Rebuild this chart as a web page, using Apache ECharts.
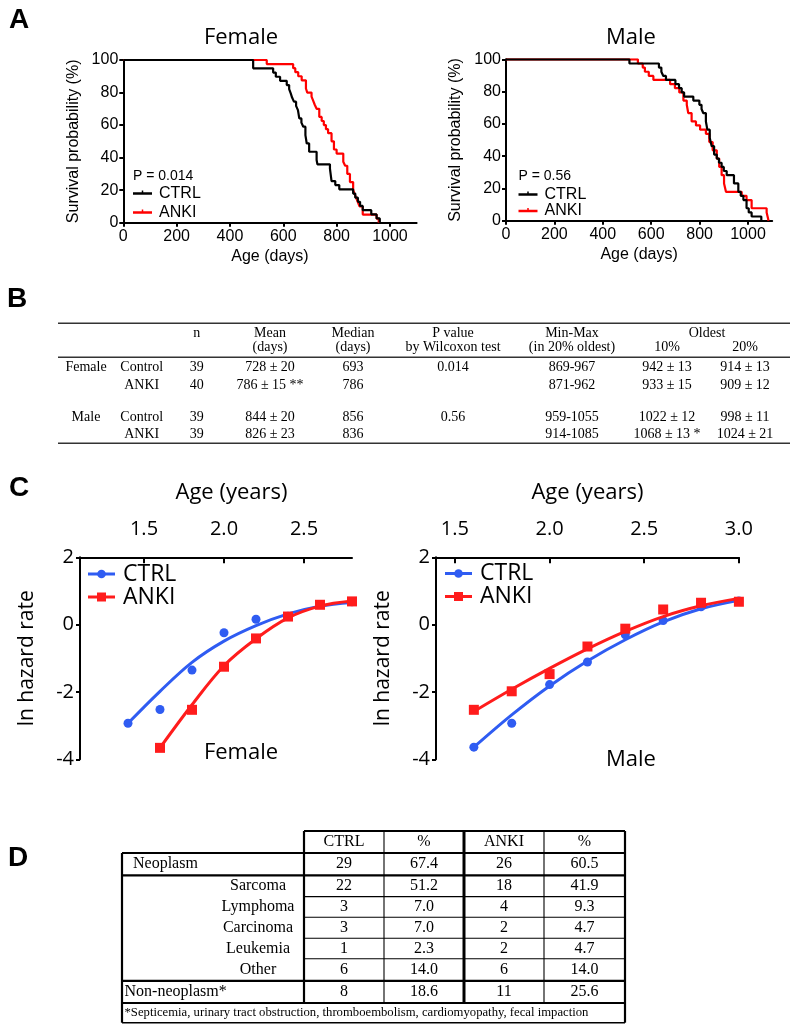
<!DOCTYPE html>
<html><head><meta charset="utf-8">
<script src="https://cdn.jsdelivr.net/npm/echarts@6/dist/echarts.min.js"></script>
<style>html,body{margin:0;padding:0;background:#fff}#c{width:800px;height:1028px}</style>
</head><body><div id="c"></div>
<script>
// ---------- Panel A: Kaplan-Meier survival, [age (days), survival %] ----------
const kmFemaleCtrl = [[0,100],[487,94.9],[562,92.3],[572,89.7],[588,87.2],[613,84.6],[622,82.1],[628,79.5],[633,76.9],[640,74.4],[648,71.8],[655,69.2],[660,64.1],[668,61.5],[675,59.0],[683,53.8],[688,48.7],[697,43.6],[725,38.5],[728,35.9],[775,33.3],[781,25.6],[795,23.1],[810,20.5],[862,17.9],[870,15.4],[880,12.8],[888,10.3],[898,7.7],[930,5.1],[950,2.6],[962,0]];
const kmFemaleAnki = [[0,100],[538,97.5],[637,95],[645,92.5],[656,90],[669,87.5],[685,82.5],[690,80],[706,77.5],[712,75],[718,72.5],[725,70],[735,65],[744,62.5],[752,60],[760,57.5],[768,55],[781,50],[790,45],[800,42.5],[825,37.5],[832,35],[840,30],[850,25],[862,20],[868,17.5],[874,15],[880,12.5],[886,10],[898,5],[950,2.5],[958,0]];
const kmMaleCtrl = [[0,100],[510,97.4],[632,94.9],[642,92.3],[650,89.7],[661,87.2],[700,84.6],[715,82.1],[726,79.5],[736,76.9],[774,74.4],[799,71.8],[808,69.2],[815,66.7],[826,61.5],[832,56.4],[842,51.3],[850,46.2],[860,41.0],[871,38.5],[880,35.9],[891,33.3],[900,30.8],[912,28.2],[942,23.1],[960,17.9],[970,15.4],[981,12.8],[994,7.7],[1003,5.1],[1015,2.6],[1055,0]];
const kmMaleAnki = [[0,100],[545,97.4],[565,94.9],[574,92.3],[590,89.7],[609,87.2],[678,84.6],[698,82.1],[716,79.5],[733,74.4],[747,71.8],[753,66.7],[767,61.5],[785,59.0],[802,56.4],[826,53.8],[840,48.7],[854,43.6],[871,38.5],[881,33.3],[891,28.2],[901,23.1],[909,17.9],[974,15.4],[994,12.8],[1015,7.7],[1077,5.1],[1085,0]];
const kmDayTicks = [0,200,400,600,800,1000];
const pFemale = 'P = 0.014';
const pMale = 'P = 0.56';

// ---------- Panel C: ln hazard rate, [age (years), ln hazard] ----------
const hzFemaleCtrlPts = [[1.4,-2.93],[1.6,-2.52],[1.8,-1.35],[2.0,-0.24],[2.2,0.16],[2.4,0.25],[2.6,0.6],[2.8,0.68]];
const hzFemaleAnkiPts = [[1.6,-3.66],[1.8,-2.53],[2.0,-1.25],[2.2,-0.41],[2.4,0.24],[2.6,0.59],[2.8,0.69]];
const hzFemaleCtrlFit = [[1.4,-2.93],[1.6,-1.98],[1.8,-1.12],[2.0,-0.49],[2.2,-0.03],[2.4,0.32],[2.6,0.55],[2.8,0.66]];
const hzFemaleAnkiFit = [[1.6,-3.66],[1.8,-2.38],[2.0,-1.22],[2.2,-0.42],[2.4,0.2],[2.6,0.55],[2.8,0.7]];
const hzMaleCtrlPts = [[1.6,-3.64],[1.8,-2.93],[2.0,-1.78],[2.2,-1.11],[2.4,-0.3],[2.6,0.12],[2.8,0.53],[3.0,0.7]];
const hzMaleAnkiPts = [[1.6,-2.53],[1.8,-1.98],[2.0,-1.47],[2.2,-0.65],[2.4,-0.12],[2.6,0.45],[2.8,0.65],[3.0,0.68]];
const hzMaleCtrlFit = [[1.6,-3.64],[1.8,-2.68],[2.0,-1.82],[2.2,-1.08],[2.4,-0.45],[2.6,0.08],[2.8,0.47],[3.0,0.72]];
const hzMaleAnkiFit = [[1.6,-2.58],[1.8,-1.92],[2.0,-1.3],[2.2,-0.72],[2.4,-0.2],[2.6,0.24],[2.8,0.56],[3.0,0.78]];
const hzFemaleYearTicks = [1.5,2.0,2.5];
const hzMaleYearTicks = [1.5,2.0,2.5,3.0];

// ---------- Panel B table ----------
const tbHead1 = ['', '', 'n', 'Mean', 'Median', 'P value', 'Min-Max', '', ''];
const tbHead2 = ['', '', '', '(days)', '(days)', 'by Wilcoxon test', '(in 20% oldest)', '10%', '20%'];
const tbSpanHead = 'Oldest';
const tbRows = [
  ['Female', 'Control', '39', '728 ± 20', '693', '0.014', '869-967', '942 ± 13', '914 ± 13'],
  ['', 'ANKI', '40', '786 ± 15 **', '786', '', '871-962', '933 ± 15', '909 ± 12'],
  ['Male', 'Control', '39', '844 ± 20', '856', '0.56', '959-1055', '1022 ± 12', '998 ± 11'],
  ['', 'ANKI', '39', '826 ± 23', '836', '', '914-1085', '1068 ± 13 *', '1024 ± 21']
];

// ---------- Panel D table ----------
const tdHead = ['CTRL', '%', 'ANKI', '%'];
const tdCauses = ['Neoplasm', 'Sarcoma', 'Lymphoma', 'Carcinoma', 'Leukemia', 'Other', 'Non-neoplasm*'];
const tdCtrlN = ['29', '22', '3', '3', '1', '6', '8'];
const tdCtrlPct = ['67.4', '51.2', '7.0', '7.0', '2.3', '14.0', '18.6'];
const tdAnkiN = ['26', '18', '4', '2', '2', '6', '11'];
const tdAnkiPct = ['60.5', '41.9', '9.3', '4.7', '4.7', '14.0', '25.6'];
const tdNote = '*Septicemia, urinary tract obstruction, thromboembolism, cardiomyopathy, fecal impaction';

// ======================================================================
const SANS = 'Liberation Sans, Arial, sans-serif';
const OPEN = 'Open Sans, sans-serif';
const SERIF = 'Liberation Serif, Times New Roman, serif';
const BLUE = '#2f5cf2', RED = '#ff1c1c', KRED = '#ff0000';

const chart = echarts.init(document.getElementById('c'), null, {renderer: 'canvas', width: 800, height: 1028});

function txt(text, x, y, size, family, o) {
  o = o || {};
  return {type: 'text', x: x, y: y, silent: true, z: 50,
    style: {text: text, fontSize: size, fontFamily: family, fontWeight: o.weight || 'normal',
      fill: o.color || '#000', align: o.align || 'center', verticalAlign: 'middle',
      textAlign: o.align || 'center', textVerticalAlign: 'middle'}};
}
function ln(x1, y1, x2, y2, w, c) {
  return {type: 'line', silent: true, z: 50, shape: {x1: x1, y1: y1, x2: x2, y2: y2},
    style: {stroke: c || '#000', lineWidth: w}};
}

const axisBase = {
  splitLine: {show: false},
  axisLine: {onZero: false, lineStyle: {color: '#000', width: 2}},
  axisTick: {lineStyle: {color: '#000', width: 2}}
};

function kmX(gi) {
  return Object.assign({}, axisBase, {
    gridIndex: gi, type: 'value', min: 0, max: 1100,
    axisTick: {customValues: kmDayTicks, length: 4, lineStyle: {color: '#000', width: 2}},
    axisLabel: {customValues: kmDayTicks, color: '#000', fontFamily: SANS, fontSize: 16, margin: 6,
      formatter: function (v) { return String(v); }},
    name: 'Age (days)', nameLocation: 'middle', nameGap: 26,
    nameTextStyle: {color: '#000', fontFamily: SANS, fontSize: 16}
  });
}
function kmY(gi) {
  return Object.assign({}, axisBase, {
    gridIndex: gi, type: 'value', min: 0, max: 100, interval: 20,
    axisTick: {length: 4, lineStyle: {color: '#000', width: 2}},
    axisLabel: {color: '#000', fontFamily: SANS, fontSize: 16, margin: 5},
    name: 'Survival probability (%)', nameLocation: 'middle', nameGap: 42,
    nameTextStyle: {color: '#000', fontFamily: SANS, fontSize: 16}
  });
}
function hzX(gi, mn, mx, ticks, pad) {
  return Object.assign({}, axisBase, {
    gridIndex: gi, type: 'value', position: 'top', min: mn, max: mx,
    axisTick: {customValues: ticks, inside: true, length: 6, lineStyle: {color: '#000', width: 2}},
    axisLabel: {customValues: ticks, color: '#000', fontFamily: OPEN, fontSize: 20, margin: 18,
      formatter: function (v) { return v.toFixed(1); }},
    name: 'Age (years)', nameLocation: 'middle', nameGap: 54,
    nameTextStyle: {color: '#000', fontFamily: OPEN, fontSize: 22, padding: pad || 0}
  });
}
function hzY(gi) {
  return Object.assign({}, axisBase, {
    gridIndex: gi, type: 'value', min: -4, max: 2, interval: 2,
    axisTick: {length: 4, lineStyle: {color: '#000', width: 2}},
    axisLabel: {color: '#000', fontFamily: OPEN, fontSize: 20, margin: 6},
    name: 'ln hazard rate', nameLocation: 'middle', nameGap: 42,
    nameTextStyle: {color: '#000', fontFamily: OPEN, fontSize: 21}
  });
}

function km(gi, data, color, z) {
  return {type: 'line', xAxisIndex: gi, yAxisIndex: gi, data: data, step: 'end',
    symbol: 'none', showSymbol: false, z: z, lineStyle: {color: color, width: 2.2}, silent: true};
}
function fit(gi, data, color, z) {
  return {type: 'line', xAxisIndex: gi, yAxisIndex: gi, data: data, smooth: 0.35,
    symbol: 'none', showSymbol: false, z: z, lineStyle: {color: color, width: 3}, silent: true};
}
function pts(gi, data, color, sym, size, z) {
  return {type: 'scatter', xAxisIndex: gi, yAxisIndex: gi, data: data, symbol: sym, symbolSize: size,
    z: z, itemStyle: {color: color, opacity: 1}, silent: true};
}

// ---------- graphic elements ----------
const g = [];
// panel letters
g.push(txt('A', 19, 20, 28, SANS, {weight: 'bold'}));
g.push(txt('B', 17, 299, 28, SANS, {weight: 'bold'}));
g.push(txt('C', 19, 488, 28, SANS, {weight: 'bold'}));
g.push(txt('D', 18, 858, 28, SANS, {weight: 'bold'}));
// panel A titles & legends
g.push(txt('Female', 241, 38, 22, OPEN));
g.push(txt('Male', 631, 38, 22, OPEN));
function kmLegend(x0, yP, yC, yA, p) {
  g.push(txt(p, x0, yP, 14, SANS, {align: 'left'}));
  g.push(ln(x0, yC, x0 + 19, yC, 2.5, '#000'));
  g.push(ln(x0 + 9.5, yC - 3, x0 + 9.5, yC, 1.5, '#000'));
  g.push(txt('CTRL', x0 + 26, yC, 16, SANS, {align: 'left'}));
  g.push(ln(x0, yA, x0 + 19, yA, 2.5, KRED));
  g.push(ln(x0 + 9.5, yA - 3, x0 + 9.5, yA, 1.5, KRED));
  g.push(txt('ANKI', x0 + 26, yA, 16, SANS, {align: 'left'}));
}
kmLegend(133, 176.5, 193.5, 212.5, pFemale);
kmLegend(518.5, 176, 194.5, 211, pMale);
// panel C legends and labels
function hzLegend(x0, yC, yA) {
  g.push(ln(x0, yC, x0 + 27, yC, 3, BLUE));
  g.push({type: 'circle', silent: true, z: 50, shape: {cx: x0 + 13.5, cy: yC, r: 4.3}, style: {fill: BLUE}});
  g.push(txt('CTRL', x0 + 35, yC, 23, OPEN, {align: 'left'}));
  g.push(ln(x0, yA, x0 + 27, yA, 3, RED));
  g.push({type: 'rect', silent: true, z: 50, shape: {x: x0 + 9, y: yA - 4.5, width: 9, height: 9}, style: {fill: RED}});
  g.push(txt('ANKI', x0 + 35, yA, 23, OPEN, {align: 'left'}));
}
hzLegend(88, 574, 597);
hzLegend(445, 573.5, 596.5);
g.push(txt('Female', 241, 753, 22, OPEN));
g.push(txt('Male', 631, 760, 22, OPEN));

// ---------- Table B ----------
const bCols = [86, 141.7, 196.7, 270, 353, 453, 572, 667, 745];
const bL = 58, bR = 790;
g.push(ln(bL, 323.3, bR, 323.3, 1.6, '#333'));
g.push(ln(bL, 357.3, bR, 357.3, 1.6, '#333'));
g.push(ln(bL, 443.3, bR, 443.3, 1.6, '#333'));
tbHead1.forEach(function (t, i) { if (t) g.push(txt(t, bCols[i], 333.5, 14, SERIF)); });
g.push(txt(tbSpanHead, 707, 333.5, 14, SERIF));
tbHead2.forEach(function (t, i) { if (t) g.push(txt(t, bCols[i], 347, 14, SERIF)); });
const bRowY = [367.5, 385, 417.5, 434.5];
tbRows.forEach(function (row, r) {
  row.forEach(function (t, i) { if (t) g.push(txt(t, bCols[i], bRowY[r], 14, SERIF)); });
});

// ---------- Table D ----------
const dX = [122, 304, 384, 464, 544, 625];
const dY = [831, 853, 875.3, 896.6, 917.2, 938.2, 958.8, 980.8, 1003, 1022.7];
// horizontal rules
g.push(ln(dX[1], dY[0], dX[5], dY[0], 2.2));
[1, 2, 7, 8].forEach(function (k) { g.push(ln(dX[0], dY[k], dX[5], dY[k], 2.2)); });
g.push(ln(dX[0], dY[9], dX[5], dY[9], 1.4));
[3, 4, 5, 6].forEach(function (k) { g.push(ln(dX[1], dY[k], dX[5], dY[k], 1.1)); });
// vertical rules
g.push(ln(dX[0], dY[1], dX[0], dY[9], 2.2));
g.push(ln(dX[1], dY[0], dX[1], dY[8], 2.2));
g.push(ln(dX[2], dY[0], dX[2], dY[8], 1.1));
g.push(ln(dX[3], dY[0], dX[3], dY[8], 3));
g.push(ln(dX[4], dY[0], dX[4], dY[8], 1.1));
g.push(ln(dX[5], dY[0], dX[5], dY[9], 2.2));
const dC = [344, 424, 504, 584.5];
tdHead.forEach(function (t, i) { g.push(txt(t, dC[i], (dY[0] + dY[1]) / 2, 16, SERIF)); });
const dRowIdx = [1, 2, 3, 4, 5, 6, 7];
tdCauses.forEach(function (name, r) {
  const k = dRowIdx[r];
  const cy = (dY[k] + dY[k + 1]) / 2;
  if (r === 0) g.push(txt(name, 133, cy, 16, SERIF, {align: 'left'}));
  else if (r === 6) g.push(txt(name, 124.5, cy, 16, SERIF, {align: 'left'}));
  else g.push(txt(name, 258, cy, 16, SERIF));
  [tdCtrlN[r], tdCtrlPct[r], tdAnkiN[r], tdAnkiPct[r]].forEach(function (v, i) {
    g.push(txt(v, dC[i], cy, 16, SERIF));
  });
});
g.push(txt(tdNote, 124.5, (dY[8] + dY[9]) / 2, 12.7, SERIF, {align: 'left'}));

const option = {
  backgroundColor: '#fff',
  animation: false,
  grid: [
    {left: 123.3, top: 60, width: 293.3, height: 162.7, outerBoundsMode: 'none'},
    {left: 506, top: 59.3, width: 266.2, height: 161.4, outerBoundsMode: 'none'},
    {left: 80, top: 557.3, width: 272, height: 202, outerBoundsMode: 'none'},
    {left: 436, top: 557.3, width: 302.9, height: 202, outerBoundsMode: 'none'}
  ],
  xAxis: [kmX(0), kmX(1), hzX(2, 1.1, 2.8, hzFemaleYearTicks, [0, 0, 0, 31]), hzX(3, 1.4, 3.0, hzMaleYearTicks)],
  yAxis: [kmY(0), kmY(1), hzY(2), hzY(3)],
  series: [
    km(0, kmFemaleAnki, KRED, 2), km(0, kmFemaleCtrl, '#000', 3),
    km(1, kmMaleAnki, KRED, 2), km(1, kmMaleCtrl, '#000', 3),
    fit(2, hzFemaleCtrlFit, BLUE, 2), pts(2, hzFemaleCtrlPts, BLUE, 'circle', 9, 3),
    fit(2, hzFemaleAnkiFit, RED, 4), pts(2, hzFemaleAnkiPts, RED, 'rect', 10, 5),
    fit(3, hzMaleCtrlFit, BLUE, 2), pts(3, hzMaleCtrlPts, BLUE, 'circle', 9, 3),
    fit(3, hzMaleAnkiFit, RED, 4), pts(3, hzMaleAnkiPts, RED, 'rect', 10, 5)
  ],
  graphic: {elements: g}
};
chart.setOption(option);
</script>
</body></html>
